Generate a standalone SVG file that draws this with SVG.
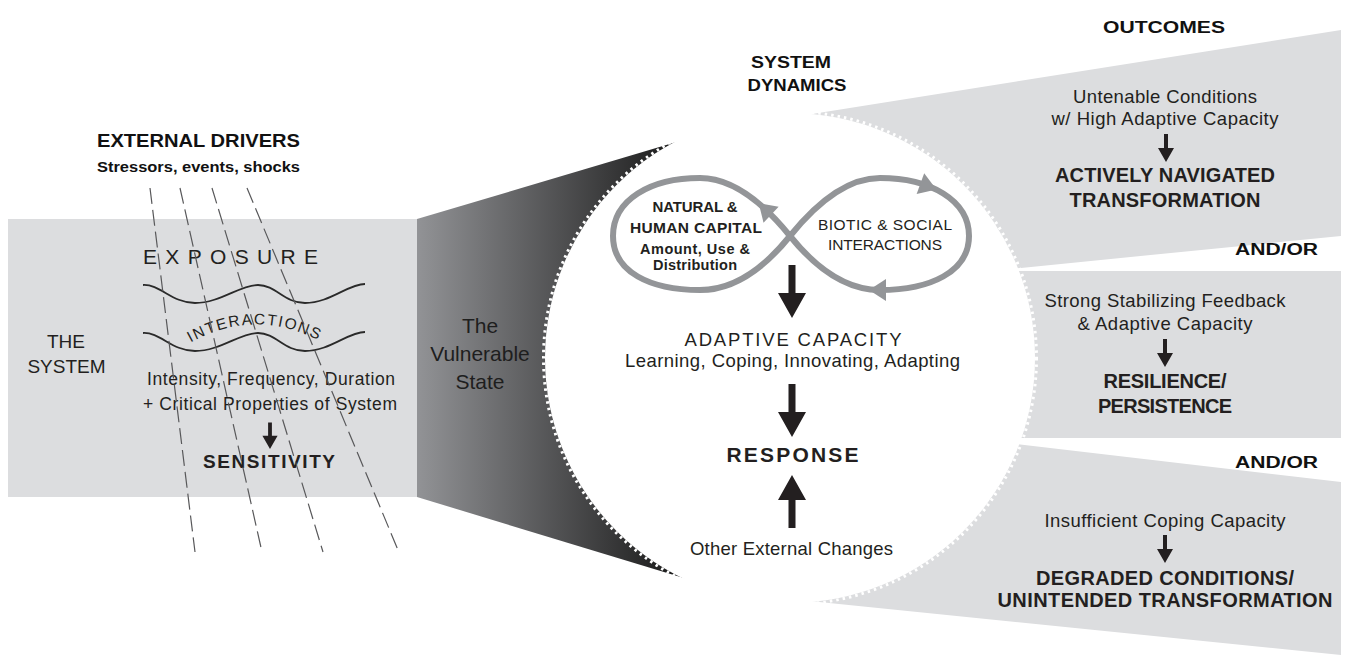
<svg xmlns="http://www.w3.org/2000/svg" width="1351" height="666" viewBox="0 0 1351 666">
<defs>
<style>
text{font-family:"Liberation Sans",Arial,sans-serif;fill:#231f20}
.r{font-size:18.5px}
.b{font-size:20px;font-weight:bold}
.h{font-weight:bold}
.k{font-weight:bold;fill:#111}
.c{text-anchor:middle}
.grey{fill:#dcdddf}
.dash{stroke:#58585a;stroke-width:1.2;stroke-dasharray:16 6;fill:none}
.wave{fill:none;stroke:#2a2a2a;stroke-width:1.8}
.loop{fill:none;stroke:#939598;stroke-width:6}
.ah{fill:#231f20}
.lh{fill:#939598}
</style>
<linearGradient id="vg" gradientUnits="userSpaceOnUse" x1="417" y1="0" x2="690" y2="0">
<stop offset="0" stop-color="#929396"/>
<stop offset="1" stop-color="#141414"/>
</linearGradient>
<path id="arrS" d="M -2 -28 H 2 V -14 H 8 L 0 0 L -8 -14 H -2 Z"/>
<path id="arrB" d="M -3.5 -53 H 3.5 V -25 H 14 L 0 0 L -14 -25 H -3.5 Z"/>
<path id="loopHead" d="M 10 0 L -7 -11 L -7 11 Z"/>
<path id="arcI" d="M 183 347 Q 254 303 327 345"/>
</defs>
<rect width="1351" height="666" fill="#fff"/>

<g id="outcome-transformation">
<polygon class="grey" points="790,117.5 1341,30 1341,236 990,271 800,300"/>
<text class="k c" x="1164" y="33" font-size="17" textLength="122" lengthAdjust="spacingAndGlyphs">OUTCOMES</text>
<text class="r c" x="1165" y="103" textLength="184">Untenable Conditions</text>
<text class="r c" x="1165" y="125" textLength="227">w/ High Adaptive Capacity</text>
<text class="b c" x="1165" y="182" textLength="220">ACTIVELY NAVIGATED</text>
<text class="b c" x="1165" y="207" textLength="191">TRANSFORMATION</text>
</g>
<g id="andor-1"><text class="k c" x="1276.5" y="255" font-size="16" textLength="83" lengthAdjust="spacingAndGlyphs">AND/OR</text></g>
<g id="outcome-resilience">
<rect class="grey" x="990" y="271" width="351" height="167"/>
<text class="r c" x="1165" y="307" textLength="241">Strong Stabilizing Feedback</text>
<text class="r c" x="1165" y="330" textLength="175">&amp; Adaptive Capacity</text>
<text class="b c" x="1165" y="388" textLength="123">RESILIENCE/</text>
<text class="b c" x="1165" y="413" textLength="134">PERSISTENCE</text>
</g>
<g id="andor-2"><text class="k c" x="1276.5" y="468" font-size="16" textLength="83" lengthAdjust="spacingAndGlyphs">AND/OR</text></g>
<g id="outcome-degraded">
<polygon class="grey" points="990,441 1341,482 1341,655 780,598 800,450"/>
<text class="r c" x="1165" y="527" textLength="241">Insufficient Coping Capacity</text>
<text class="b c" x="1165" y="585" textLength="258">DEGRADED CONDITIONS/</text>
<text class="b c" x="1165" y="607" textLength="335">UNINTENDED TRANSFORMATION</text>
</g>

<g id="the-system">
<rect class="grey" x="8" y="219" width="409" height="278"/>
<text class="c" x="66" y="348" font-size="19">THE</text>
<text class="c" x="66.5" y="373" font-size="19">SYSTEM</text>
<text class="c" x="230.5" y="264" font-size="21" textLength="175">EXPOSURE</text>
<path class="wave" d="M 143 285 C 160 284, 172 303, 195 303 C 220 303, 240 285, 258 285 C 276 285, 284 303, 305 303 C 330 303, 348 284, 365 284"/>
<path class="wave" transform="translate(0,48)" d="M 143 285 C 160 284, 172 303, 195 303 C 220 303, 240 285, 258 285 C 276 285, 284 303, 305 303 C 330 303, 348 284, 365 284"/>
<text font-size="15.5" letter-spacing="1.6"><textPath href="#arcI" startOffset="50%" text-anchor="middle">INTERACTIONS</textPath></text>
<text class="c" x="271" y="385" font-size="17.5" textLength="248">Intensity, Frequency, Duration</text>
<text class="c" x="270" y="410" font-size="17.5" textLength="254">+ Critical Properties of System</text>
<text class="h c" x="269" y="468" font-size="19" textLength="132">SENSITIVITY</text>
</g>

<g id="external-drivers">
<text class="k c" x="198.5" y="147" font-size="18" textLength="203" lengthAdjust="spacingAndGlyphs">EXTERNAL DRIVERS</text>
<text class="k c" x="198.5" y="172" font-size="15" textLength="203" lengthAdjust="spacingAndGlyphs">Stressors, events, shocks</text>
</g>

<g id="vulnerable-state">
<polygon fill="url(#vg)" points="417,219 720,129 720,589 417,497"/>
<text class="c" x="480" y="333" font-size="21" style="fill:#1e1e1e">The</text>
<text class="c" x="480" y="361" font-size="21" style="fill:#1e1e1e">Vulnerable</text>
<text class="c" x="480" y="389" font-size="21" style="fill:#1e1e1e">State</text>
</g>

<g id="system-dynamics">
<circle cx="790" cy="358" r="245" fill="#fff"/>
<circle cx="790" cy="358" r="246.5" fill="none" stroke="#fff" stroke-width="3" stroke-dasharray="2.5 4"/>
<text class="k c" x="791" y="68" font-size="17" textLength="80" lengthAdjust="spacingAndGlyphs">SYSTEM</text>
<text class="k c" x="797" y="91" font-size="17" textLength="99" lengthAdjust="spacingAndGlyphs">DYNAMICS</text>
</g>

<g id="feedback-loop">
<path class="loop" d="M 790 236 C 815 205, 845 178, 880 178 C 930 178, 969 200, 969 236 C 969 272, 930 290, 880 290 C 845 290, 815 267, 790 236 C 765 205, 735 178, 700 178 C 650 178, 613 200, 613 236 C 613 272, 650 290, 700 290 C 735 290, 765 267, 790 236 Z"/>
<use href="#loopHead" class="lh" transform="translate(766,210) rotate(-136.6)"/>
<use href="#loopHead" class="lh" transform="translate(927,186) rotate(20)"/>
<use href="#loopHead" class="lh" transform="translate(879,290) rotate(180)"/>
</g>
<g id="capital">
<text class="h c" x="695" y="212" font-size="15" textLength="85">NATURAL &amp;</text>
<text class="h c" x="696" y="233" font-size="15.5" textLength="132">HUMAN CAPITAL</text>
<text class="h c" x="695" y="254" font-size="14.5" textLength="110">Amount, Use &amp;</text>
<text class="h c" x="695" y="270" font-size="14.5" textLength="84">Distribution</text>
</g>
<g id="interactions">
<text class="c" x="885" y="230" font-size="15.5" textLength="134">BIOTIC &amp; SOCIAL</text>
<text class="c" x="885" y="250" font-size="15.5" textLength="114">INTERACTIONS</text>
</g>
<g id="adaptive-capacity">
<text class="c" x="793" y="346" font-size="18.5" textLength="217">ADAPTIVE CAPACITY</text>
<text class="r c" x="792.5" y="367" textLength="335">Learning, Coping, Innovating, Adapting</text>
</g>
<g id="response"><text class="h c" x="792.5" y="462" font-size="21" textLength="132">RESPONSE</text></g>
<g id="other-changes"><text class="r c" x="791.5" y="555" textLength="203">Other External Changes</text></g>

<g id="connectors">
<g class="dash">
<line x1="150" y1="188" x2="195" y2="552"/>
<line x1="180" y1="188" x2="262" y2="552"/>
<line x1="212" y1="188" x2="323" y2="552"/>
<line x1="247" y1="188" x2="398" y2="550"/>
</g>
<use href="#arrS" class="ah" transform="translate(270,449) scale(0.95)"/>
<use href="#arrB" class="ah" transform="translate(792,318)"/>
<use href="#arrB" class="ah" transform="translate(792,437)"/>
<use href="#arrB" class="ah" transform="translate(792,475) rotate(180)"/>
<use href="#arrS" class="ah" transform="translate(1166,162)"/>
<use href="#arrS" class="ah" transform="translate(1165,367)"/>
<use href="#arrS" class="ah" transform="translate(1165,563)"/>
</g>
</svg>
